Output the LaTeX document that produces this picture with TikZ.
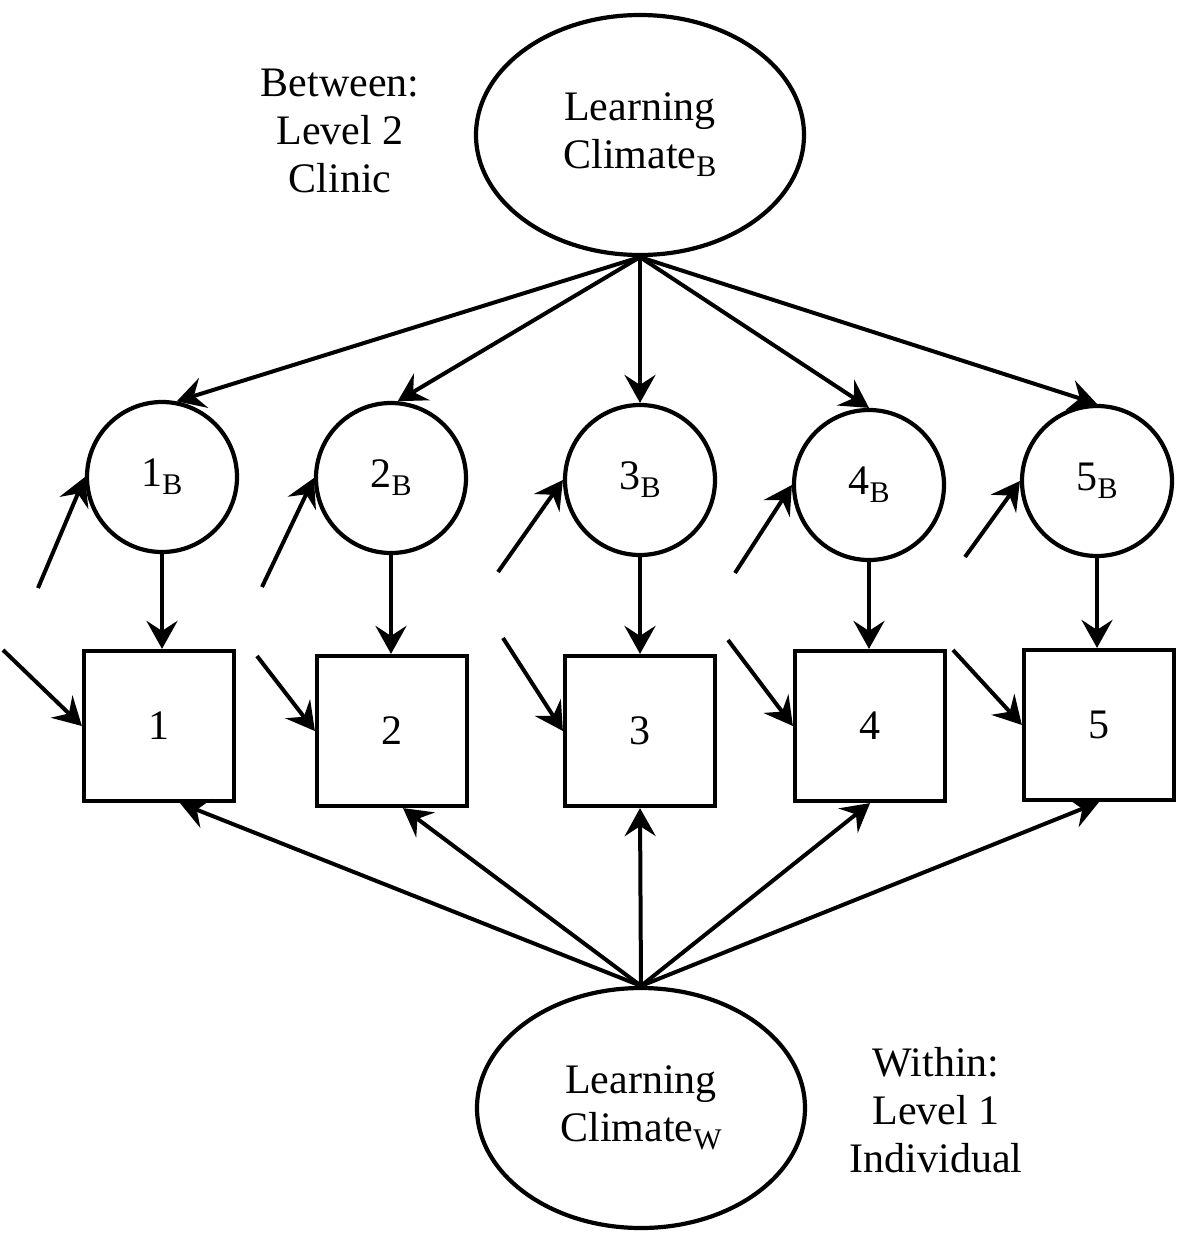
\documentclass[tikz,border=0pt]{standalone}
\usepackage{fontspec}
\setmainfont{Liberation Serif}
\usetikzlibrary{shapes.geometric,arrows.meta}
\newcommand{\mysub}[1]{\raisebox{-8pt}{\fontsize{30}{30}\selectfont #1}}
\tikzset{
  base/.style={line width=4.2pt, font=\fontsize{42}{48}\selectfont, align=center, inner sep=0pt},
  latent/.style={base, draw, ellipse, minimum width=328pt, minimum height=240pt},
  factor/.style={base, draw, circle, minimum size=150pt},
  obs/.style={base, draw, rectangle, minimum size=150pt},
  plain/.style={base},
  conn/.style={line width=4pt, -{Stealth[length=28pt,width=31pt,inset=10pt]}}
}
\begin{document}
\begin{tikzpicture}[x=1pt,y=-1pt]
\useasboundingbox (0,0) rectangle (1181,1237);
% latent variables
\node[latent] (LB) at (640,135) {Learning\\Climate\mysub{B}};
\node[latent] (LW) at (641,1108) {Learning\\Climate\mysub{W}};
% labels
\node[plain] (between) at (340,131) {Between:\\Level 2\\Clinic};
\node[plain] (within) at (936,1110) {Within:\\Level 1\\Individual};
% between factors
\node[factor] (c1) at (162,477) {1\mysub{B}};
\node[factor] (c2) at (391,478) {2\mysub{B}};
\node[factor] (c3) at (640,480) {3\mysub{B}};
\node[factor] (c4) at (869,485) {4\mysub{B}};
\node[factor] (c5) at (1097,481) {5\mysub{B}};
% observed
\node[obs] (s1) at (159,726) {1};
\node[obs] (s2) at (392,731) {2};
\node[obs] (s3) at (640,731) {3};
\node[obs] (s4) at (870,726) {4};
\node[obs] (s5) at (1099,725) {5};
% error starts
\coordinate (e1) at (38,588);
\coordinate (e2) at (262,587);
\coordinate (e3) at (498,572);
\coordinate (e4) at (735,573);
\coordinate (e5) at (965,557);
\coordinate (f1) at (3,650);
\coordinate (f2) at (257,656);
\coordinate (f3) at (503,638);
\coordinate (f4) at (728,640);
\coordinate (f5) at (953,650);
% top arrows
\draw[conn] (LB.south) -- (c1.79);
\draw[conn] (LB.south) -- (c2.85);
\draw[conn] (LB.south) -- (c3.north);
\draw[conn] (LB.south) -- (c4.north);
\draw[conn] (LB.south) -- (c5.north);
% circle to square
\foreach \i in {1,...,5}{
  \draw[conn] (c\i.south) -- (c\i.south |- s\i.north);
}
% bottom arrows
\draw[conn] (LW.north) -- ([xshift=21pt]s1.south);
\draw[conn] (LW.north) -- ([xshift=11pt]s2.south);
\draw[conn] (LW.north) -- (s3.south);
\draw[conn] (LW.north) -- (s4.south);
\draw[conn] (LW.north) -- (s5.south);
% error arrows
\foreach \i in {1,...,5}{
  \draw[conn] (e\i) -- (c\i.west);
  \draw[conn] (f\i) -- (s\i.west);
}
\end{tikzpicture}
\end{document}
